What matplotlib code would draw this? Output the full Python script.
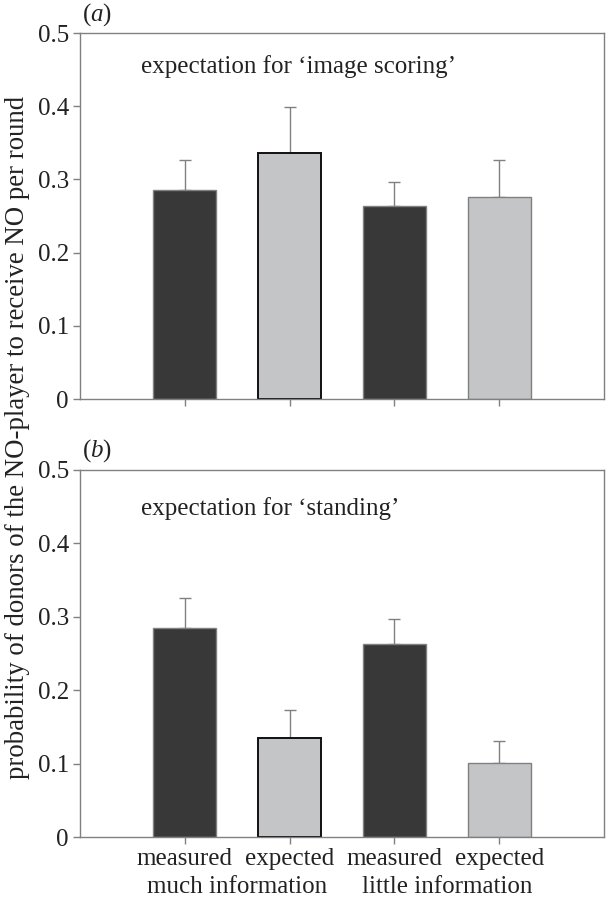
import numpy as np
import matplotlib
matplotlib.use('Agg')
import matplotlib.pyplot as plt

plt.rcParams['font.family'] = ['Liberation Serif', 'DejaVu Serif']
plt.rcParams['mathtext.fontset'] = 'custom'
plt.rcParams['mathtext.rm'] = 'Liberation Serif'
plt.rcParams['mathtext.it'] = 'Liberation Serif:italic'

# data
groups = ['measured', 'expected', 'measured', 'expected']
info_labels = ['much information', 'little information']
scoring_vals = [0.285, 0.336, 0.263, 0.276]
scoring_err = [0.041, 0.063, 0.034, 0.050]
standing_vals = [0.285, 0.135, 0.263, 0.101]
standing_err = [0.041, 0.038, 0.034, 0.030]
panel_titles = ['expectation for \u2018image scoring\u2019', 'expectation for \u2018standing\u2019']
panel_tags = [r'($\it{a}$)', r'($\it{b}$)']

dark = '#383838'
light = '#c4c5c7'
spine_col = '#808080'
text_col = '#222222'

fig = plt.figure(figsize=(6.08, 9.01), dpi=100)
ax_a = fig.add_axes([80/608, 1-399/901, 524/608, 366/901])
ax_b = fig.add_axes([80/608, 1-837/901, 524/608, 367/901])

x = np.arange(len(groups))
colors = [dark, light, dark, light]
edges = [spine_col, '#111111', spine_col, spine_col]
edge_w = [1.0, 1.4, 1.0, 1.0]

for ax, vals, err, title, tag, ty in [(ax_a, scoring_vals, scoring_err, panel_titles[0], panel_tags[0], 0.445),
                                       (ax_b, standing_vals, standing_err, panel_titles[1], panel_tags[1], 0.439)]:
    ax.errorbar(x, vals, yerr=[np.zeros(len(err)), err], fmt='none', ecolor=spine_col,
                elinewidth=1.0, capsize=4.3, capthick=1.0, zorder=1)
    ax.bar(x, vals, width=0.6, color=colors, edgecolor=edges, linewidth=edge_w, zorder=2)
    ax.set_xlim(-1, 4)
    ax.set_ylim(0, 0.5)
    ax.set_yticks([0, 0.1, 0.2, 0.3, 0.4, 0.5])
    ax.set_yticklabels(['0', '0.1', '0.2', '0.3', '0.4', '0.5'])
    ax.set_xticks(x)
    for s in ax.spines.values():
        s.set_color(spine_col)
        s.set_linewidth(1.0)
    ax.tick_params(axis='both', direction='out', length=5, width=1, color=spine_col,
                   labelsize=18, labelcolor=text_col, pad=3)
    ax.text(-0.42, ty, title, fontsize=18, color=text_col, va='baseline', ha='left')
    ax.text(0.003, 1.015, tag, transform=ax.transAxes, fontsize=18, color=text_col,
            va='bottom', ha='left')

ax_a.set_xticklabels([])
ax_b.set_xticklabels(groups)
ax_b.text(0.5, -0.135, info_labels[0], transform=ax_b.get_xaxis_transform(),
          fontsize=18, color=text_col, ha='center', va='center')
ax_b.text(2.5, -0.135, info_labels[1], transform=ax_b.get_xaxis_transform(),
          fontsize=18, color=text_col, ha='center', va='center')

fig.text(18/608, 1-437/901, 'probability of donors of the NO-player to receive NO per round',
         rotation=90, fontsize=19.3, color=text_col, ha='center', va='center')

fig.savefig('out.png', dpi=100)
